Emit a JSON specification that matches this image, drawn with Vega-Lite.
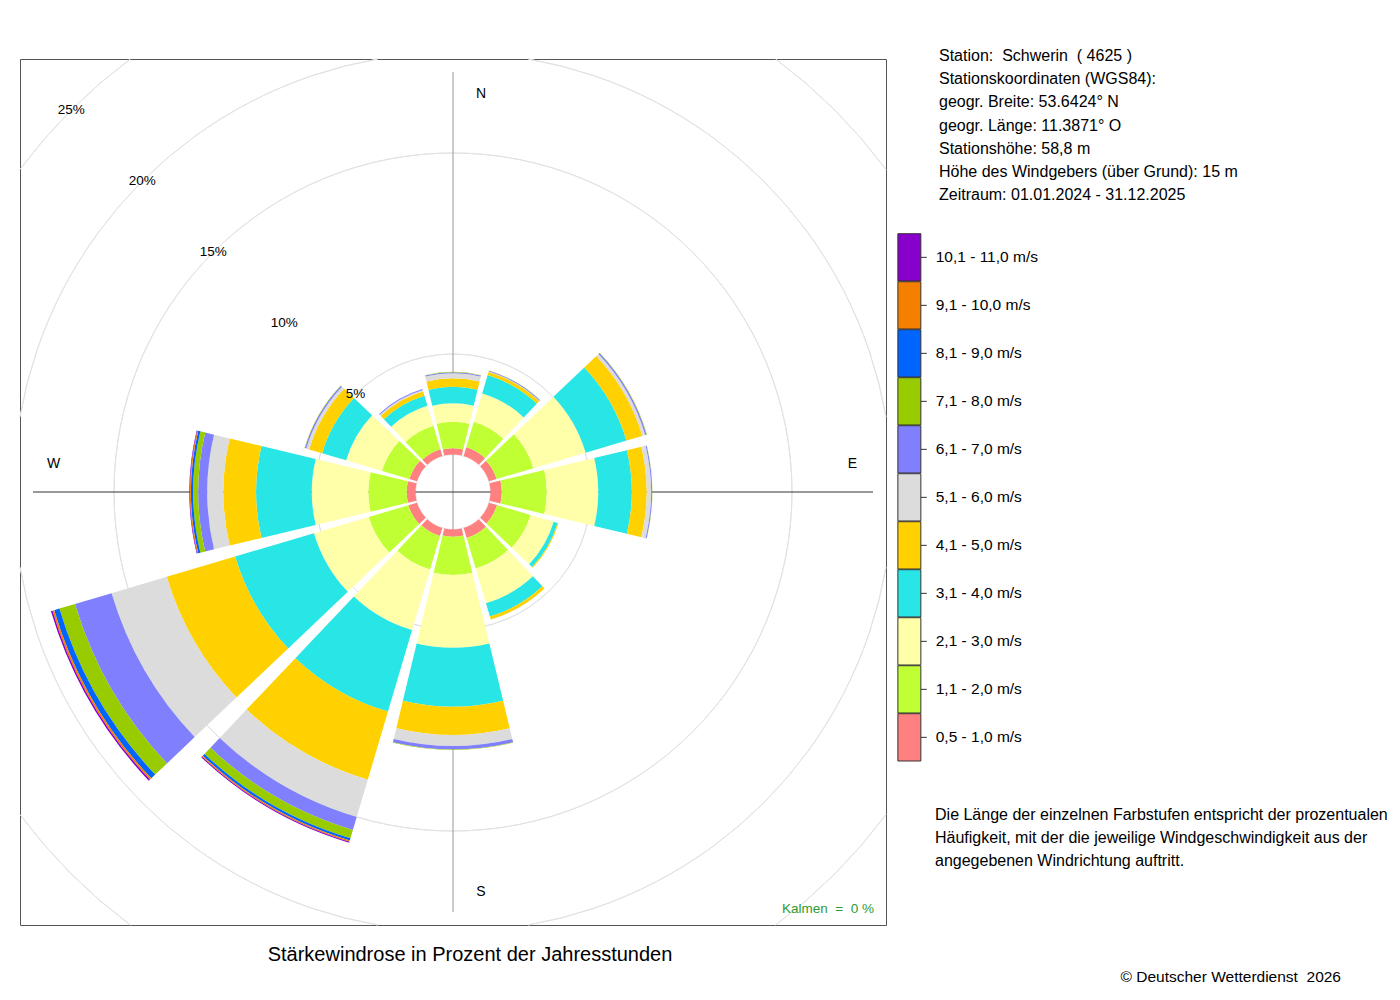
{
  "$schema": "https://vega.github.io/schema/vega-lite/v6.json",
  "width": 866,
  "height": 866,
  "autosize": {"type": "none"},
  "padding": {"left": 20, "top": 59, "right": 514, "bottom": 75},
  "background": "white",
  "config": {
    "font": "Liberation Sans",
    "view": {"stroke": "#555555", "strokeWidth": 1},
    "legend": {"labelFontSize": 15.5, "labelColor": "black", "padding": 0}
  },
  "layer": [
    {
      "data": {"values": [{"g": 5}, {"g": 10}, {"g": 15}]},
      "mark": {"type": "arc", "filled": false, "stroke": "#e2e2e2", "strokeWidth": 1, "theta": 0, "theta2": 6.2832, "clip": true},
      "encoding": {
        "radius": {"field": "g", "type": "quantitative", "scale": {"type": "linear", "domain": [0, 25], "range": [37.5, 540], "zero": false}}
      }
    },
    {
      "data": {
        "values": [
          {"g": 20, "a0": 9.87, "a1": 80.13}, {"g": 20, "a0": 99.87, "a1": 170.13},
          {"g": 20, "a0": 189.87, "a1": 260.13}, {"g": 20, "a0": 279.87, "a1": 350.13},
          {"g": 25, "a0": 36.69, "a1": 53.31}, {"g": 25, "a0": 126.69, "a1": 143.31},
          {"g": 25, "a0": 216.69, "a1": 233.31}, {"g": 25, "a0": 306.69, "a1": 323.31}
        ]
      },
      "mark": {"type": "arc", "filled": false, "stroke": "#e2e2e2", "strokeWidth": 1},
      "encoding": {
        "theta": {"field": "a0", "type": "quantitative", "stack": null, "scale": {"domain": [0, 360], "range": [0, 6.283185]}},
        "theta2": {"field": "a1"},
        "radius": {"field": "g", "type": "quantitative", "scale": {"type": "linear", "domain": [0, 25], "range": [37.5, 540], "zero": false}},
        "radius2": {"field": "g"}
      }
    },
    {
      "data": {"values": [{}]},
      "mark": {"type": "rule", "color": "#999999", "strokeWidth": 1},
      "encoding": {
        "x": {"datum": 0, "scale": {"domain": [-1, 1]}, "axis": null},
        "y": {"datum": -0.97, "scale": {"domain": [-1, 1]}, "axis": null},
        "y2": {"datum": 0.97}
      }
    },
    {
      "data": {"values": [{}]},
      "mark": {"type": "rule", "color": "#333333", "strokeWidth": 1},
      "encoding": {
        "y": {"datum": 0, "scale": {"domain": [-1, 1]}, "axis": null},
        "x": {"datum": -0.97, "scale": {"domain": [-1, 1]}, "axis": null},
        "x2": {"datum": 0.97}
      }
    },
    {
      "data": {
        "values": [
          {"dir": 0, "k": 1, "pct": 0.31}, {"dir": 0, "k": 2, "pct": 1.32}, {"dir": 0, "k": 3, "pct": 0.92}, {"dir": 0, "k": 4, "pct": 0.82},
          {"dir": 0, "k": 5, "pct": 0.42}, {"dir": 0, "k": 6, "pct": 0.25}, {"dir": 0, "k": 7, "pct": 0.05}, {"dir": 0, "k": 8, "pct": 0.02},
          {"dir": 30, "k": 1, "pct": 0.45}, {"dir": 30, "k": 2, "pct": 1.33}, {"dir": 30, "k": 3, "pct": 1.47}, {"dir": 30, "k": 4, "pct": 0.95},
          {"dir": 30, "k": 5, "pct": 0.16}, {"dir": 30, "k": 6, "pct": 0.03}, {"dir": 30, "k": 7, "pct": 0.04}, {"dir": 30, "k": 8, "pct": 0.01},
          {"dir": 60, "k": 1, "pct": 0.40}, {"dir": 60, "k": 2, "pct": 1.91}, {"dir": 60, "k": 3, "pct": 2.71}, {"dir": 60, "k": 4, "pct": 2.12},
          {"dir": 60, "k": 5, "pct": 0.82}, {"dir": 60, "k": 6, "pct": 0.15}, {"dir": 60, "k": 7, "pct": 0.07}, {"dir": 60, "k": 8, "pct": 0.02},
          {"dir": 90, "k": 1, "pct": 0.56}, {"dir": 90, "k": 2, "pct": 2.24}, {"dir": 90, "k": 3, "pct": 2.56}, {"dir": 90, "k": 4, "pct": 1.67},
          {"dir": 90, "k": 5, "pct": 0.74}, {"dir": 90, "k": 6, "pct": 0.22}, {"dir": 90, "k": 7, "pct": 0.05}, {"dir": 90, "k": 8, "pct": 0.01},
          {"dir": 120, "k": 1, "pct": 0.42}, {"dir": 120, "k": 2, "pct": 1.74}, {"dir": 120, "k": 3, "pct": 1.20}, {"dir": 120, "k": 4, "pct": 0.20},
          {"dir": 120, "k": 5, "pct": 0.05},
          {"dir": 150, "k": 1, "pct": 0.52}, {"dir": 150, "k": 2, "pct": 1.59}, {"dir": 150, "k": 3, "pct": 1.80}, {"dir": 150, "k": 4, "pct": 0.69},
          {"dir": 150, "k": 5, "pct": 0.15}, {"dir": 150, "k": 6, "pct": 0.01},
          {"dir": 180, "k": 1, "pct": 0.36}, {"dir": 180, "k": 2, "pct": 1.90}, {"dir": 180, "k": 3, "pct": 3.62}, {"dir": 180, "k": 4, "pct": 2.94},
          {"dir": 180, "k": 5, "pct": 1.40}, {"dir": 180, "k": 6, "pct": 0.55}, {"dir": 180, "k": 7, "pct": 0.17}, {"dir": 180, "k": 8, "pct": 0.02},
          {"dir": 210, "k": 1, "pct": 0.42}, {"dir": 210, "k": 2, "pct": 1.74}, {"dir": 210, "k": 3, "pct": 3.14}, {"dir": 210, "k": 4, "pct": 4.23},
          {"dir": 210, "k": 5, "pct": 3.53}, {"dir": 210, "k": 6, "pct": 1.94}, {"dir": 210, "k": 7, "pct": 0.67}, {"dir": 210, "k": 8, "pct": 0.43},
          {"dir": 210, "k": 9, "pct": 0.12}, {"dir": 210, "k": 10, "pct": 0.06}, {"dir": 210, "k": 11, "pct": 0.05},
          {"dir": 240, "k": 1, "pct": 0.45}, {"dir": 240, "k": 2, "pct": 2.06}, {"dir": 240, "k": 3, "pct": 2.84}, {"dir": 240, "k": 4, "pct": 4.09},
          {"dir": 240, "k": 5, "pct": 3.55}, {"dir": 240, "k": 6, "pct": 2.86}, {"dir": 240, "k": 7, "pct": 1.90}, {"dir": 240, "k": 8, "pct": 0.81},
          {"dir": 240, "k": 9, "pct": 0.27}, {"dir": 240, "k": 10, "pct": 0.09}, {"dir": 240, "k": 11, "pct": 0.08},
          {"dir": 270, "k": 1, "pct": 0.44}, {"dir": 270, "k": 2, "pct": 1.91}, {"dir": 270, "k": 3, "pct": 2.81}, {"dir": 270, "k": 4, "pct": 2.77},
          {"dir": 270, "k": 5, "pct": 1.63}, {"dir": 270, "k": 6, "pct": 0.80}, {"dir": 270, "k": 7, "pct": 0.45}, {"dir": 270, "k": 8, "pct": 0.25},
          {"dir": 270, "k": 9, "pct": 0.11}, {"dir": 270, "k": 10, "pct": 0.05}, {"dir": 270, "k": 11, "pct": 0.03},
          {"dir": 300, "k": 1, "pct": 0.40}, {"dir": 300, "k": 2, "pct": 1.42}, {"dir": 300, "k": 3, "pct": 1.86}, {"dir": 300, "k": 4, "pct": 1.25},
          {"dir": 300, "k": 5, "pct": 0.67}, {"dir": 300, "k": 6, "pct": 0.15}, {"dir": 300, "k": 7, "pct": 0.07}, {"dir": 300, "k": 8, "pct": 0.02},
          {"dir": 330, "k": 1, "pct": 0.35}, {"dir": 330, "k": 2, "pct": 1.22}, {"dir": 330, "k": 3, "pct": 1.04}, {"dir": 330, "k": 4, "pct": 0.52},
          {"dir": 330, "k": 5, "pct": 0.23}, {"dir": 330, "k": 6, "pct": 0.07}, {"dir": 330, "k": 7, "pct": 0.05}
        ]
      },
      "transform": [
        {
          "lookup": "k",
          "from": {
            "data": {
              "values": [
                {"k": 1, "cls": "0,5 - 1,0 m/s"}, {"k": 2, "cls": "1,1 - 2,0 m/s"}, {"k": 3, "cls": "2,1 - 3,0 m/s"},
                {"k": 4, "cls": "3,1 - 4,0 m/s"}, {"k": 5, "cls": "4,1 - 5,0 m/s"}, {"k": 6, "cls": "5,1 - 6,0 m/s"},
                {"k": 7, "cls": "6,1 - 7,0 m/s"}, {"k": 8, "cls": "7,1 - 8,0 m/s"}, {"k": 9, "cls": "8,1 - 9,0 m/s"},
                {"k": 10, "cls": "9,1 - 10,0 m/s"}, {"k": 11, "cls": "10,1 - 11,0 m/s"}
              ]
            },
            "key": "k",
            "fields": ["cls"]
          }
        },
        {"stack": "pct", "groupby": ["dir"], "sort": [{"field": "k", "order": "ascending"}], "as": ["p0", "p1"]}
      ],
      "mark": {"type": "arc", "thetaOffset": -0.2356, "theta2Offset": 0.2356, "clip": true},
      "encoding": {
        "theta": {"field": "dir", "type": "quantitative", "stack": null, "scale": {"domain": [0, 360], "range": [0, 6.283185]}},
        "theta2": {"field": "dir"},
        "radius": {"field": "p1", "type": "quantitative", "scale": {"type": "linear", "domain": [0, 25], "range": [37.5, 540], "zero": false}},
        "radius2": {"field": "p0"},
        "color": {
          "field": "cls",
          "type": "nominal",
          "scale": {
            "domain": ["10,1 - 11,0 m/s", "9,1 - 10,0 m/s", "8,1 - 9,0 m/s", "7,1 - 8,0 m/s", "6,1 - 7,0 m/s", "5,1 - 6,0 m/s",
                       "4,1 - 5,0 m/s", "3,1 - 4,0 m/s", "2,1 - 3,0 m/s", "1,1 - 2,0 m/s", "0,5 - 1,0 m/s"],
            "range": ["#8800CC", "#F58000", "#0064FF", "#99CC00", "#8080FF", "#DCDCDC",
                      "#FFD100", "#29E6E6", "#FFFFAA", "#C0FF33", "#FF8080"]
          },
          "legend": {
            "title": null,
            "orient": "none",
            "legendX": 878.85,
            "legendY": 176.35,
            "rowPadding": -5.8,
            "symbolType": "M-1.087,-1.118H0V1.118H-1.087Z M0,0H0.284",
            "symbolSize": 1789,
            "symbolStrokeColor": "#333333",
            "symbolStrokeWidth": 1,
            "symbolOpacity": 1,
            "labelOffset": -7.15,
            "labelLimit": 300
          }
        }
      }
    },
    {
      "data": {"values": [{"g": 5, "lab": "5%"}, {"g": 10, "lab": "10%"}, {"g": 15, "lab": "15%"}, {"g": 20, "lab": "20%"}, {"g": 25, "lab": "25%"}]},
      "mark": {"type": "text", "fontSize": 13.5, "align": "center", "baseline": "middle", "color": "black"},
      "encoding": {
        "theta": {"datum": 315, "type": "quantitative", "scale": {"domain": [0, 360], "range": [0, 6.283185]}},
        "radius": {"field": "g", "type": "quantitative", "scale": {"type": "linear", "domain": [0, 25], "range": [37.5, 540], "zero": false}},
        "text": {"field": "lab"}
      }
    },
    {
      "data": {"values": [{"lab": "N", "a": 0}, {"lab": "S", "a": 180}]},
      "mark": {"type": "text", "fontSize": 14, "align": "center", "baseline": "middle", "color": "black", "dx": 28, "dy": 1},
      "encoding": {
        "theta": {"field": "a", "type": "quantitative", "scale": {"domain": [0, 360], "range": [0, 6.283185]}},
        "radius": {"datum": 18, "type": "quantitative", "scale": {"type": "linear", "domain": [0, 25], "range": [37.5, 540], "zero": false}},
        "text": {"field": "lab"}
      }
    },
    {
      "data": {"values": [{"lab": "E", "a": 90}, {"lab": "W", "a": 270}]},
      "mark": {"type": "text", "fontSize": 14, "align": "center", "baseline": "middle", "color": "black", "dy": -28},
      "encoding": {
        "theta": {"field": "a", "type": "quantitative", "scale": {"domain": [0, 360], "range": [0, 6.283185]}},
        "radius": {"datum": 18, "type": "quantitative", "scale": {"type": "linear", "domain": [0, 25], "range": [37.5, 540], "zero": false}},
        "text": {"field": "lab"}
      }
    },
    {
      "data": {"values": [{}]},
      "mark": {"type": "text", "text": "Kalmen\u00a0 = \u00a00 %", "align": "right", "baseline": "alphabetic", "fontSize": 13.5, "color": "#2E9B2E"},
      "encoding": {
        "x": {"datum": 0.9723, "scale": {"domain": [-1, 1]}, "axis": null},
        "y": {"datum": -0.9723, "scale": {"domain": [-1, 1]}, "axis": null}
      }
    },
    {
      "data": {"values": [{}]},
      "mark": {"type": "text", "text": "Stärkewindrose in Prozent der Jahresstunden", "align": "center", "baseline": "alphabetic", "fontSize": 20, "color": "black"},
      "encoding": {
        "x": {"datum": 0.0393, "scale": {"domain": [-1, 1]}, "axis": null},
        "y": {"datum": -1.0831, "scale": {"domain": [-1, 1]}, "axis": null}
      }
    },
    {
      "data": {"values": [{}]},
      "mark": {
        "type": "text",
        "text": ["Station:\u00a0 Schwerin \u00a0( 4625 )", "Stationskoordinaten (WGS84):", "geogr. Breite: 53.6424° N", "geogr. Länge: 11.3871° O",
                 "Stationshöhe: 58,8 m", "Höhe des Windgebers (über Grund): 15 m", "Zeitraum: 01.01.2024 - 31.12.2025"],
        "align": "left",
        "baseline": "alphabetic",
        "lineHeight": 23.2,
        "fontSize": 16,
        "color": "black"
      },
      "encoding": {
        "x": {"datum": 1.1224, "scale": {"domain": [-1, 1]}, "axis": null},
        "y": {"datum": 0.9954, "scale": {"domain": [-1, 1]}, "axis": null}
      }
    },
    {
      "data": {"values": [{}]},
      "mark": {
        "type": "text",
        "text": ["Die Länge der einzelnen Farbstufen entspricht der prozentualen", "Häufigkeit, mit der die jeweilige Windgeschwindigkeit aus der",
                 "angegebenen Windrichtung auftritt."],
        "align": "left",
        "baseline": "alphabetic",
        "lineHeight": 23,
        "fontSize": 16,
        "color": "black"
      },
      "encoding": {
        "x": {"datum": 1.1132, "scale": {"domain": [-1, 1]}, "axis": null},
        "y": {"datum": -0.7564, "scale": {"domain": [-1, 1]}, "axis": null}
      }
    },
    {
      "data": {"values": [{}]},
      "mark": {"type": "text", "text": "© Deutscher Wetterdienst\u00a0 2026", "align": "right", "baseline": "alphabetic", "fontSize": 15.5, "color": "black"},
      "encoding": {
        "x": {"datum": 2.0508, "scale": {"domain": [-1, 1]}, "axis": null},
        "y": {"datum": -1.1305, "scale": {"domain": [-1, 1]}, "axis": null}
      }
    }
  ]
}
